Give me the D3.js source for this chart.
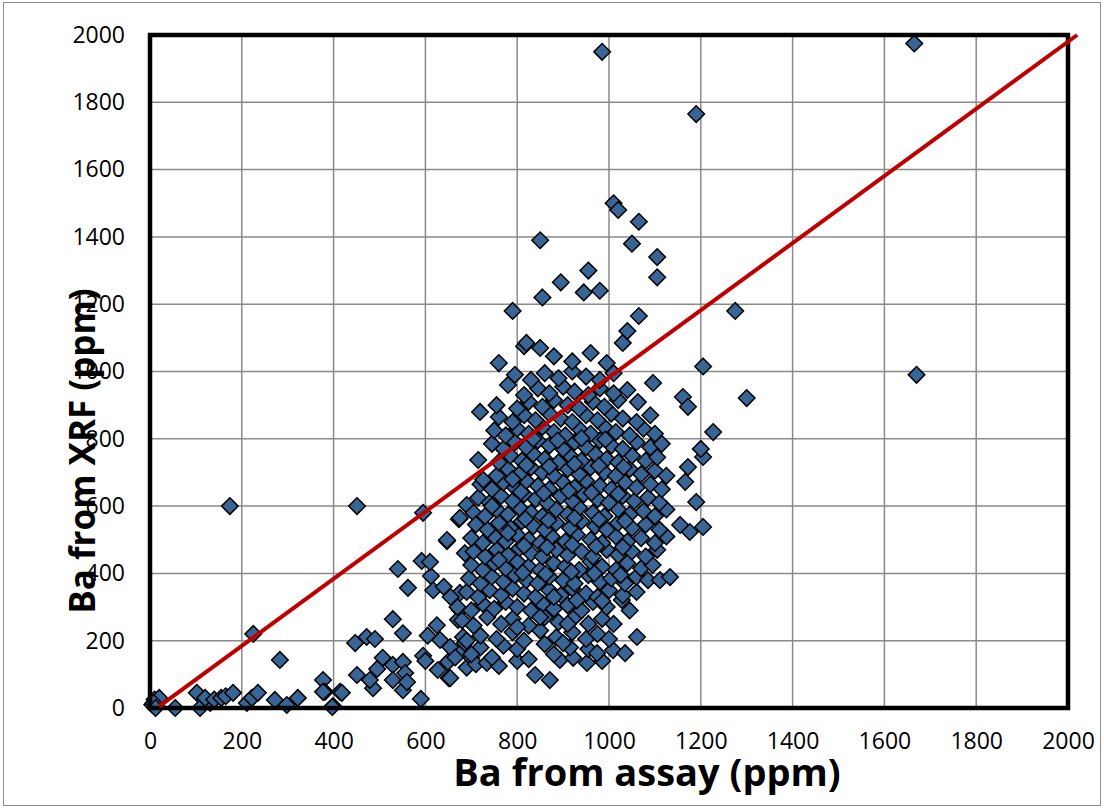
<!DOCTYPE html>
<html>
<head>
<meta charset="utf-8">
<script src="https://cdn.jsdelivr.net/npm/d3@7"></script>
<style>
  body { margin: 0; background: #fff; }
  svg text { font-family: "Open Sans", "Liberation Sans", sans-serif; fill: #000; }
</style>
</head>
<body>
<div id="chart"></div>
<script>
// Ba from assay (x) vs Ba from XRF (y), ppm
const nearOrigin = [
  [5, 10], [10, 25], [15, 5], [20, 30], [8, 15], [12, 0], [55, 0], [102, 45], [109, 0], [131, 15],
  [120, 30], [140, 25], [155, 30], [165, 35], [181, 45], [211, 15], [222, 30], [235, 45], [272, 24],
  [298, 9], [322, 30], [377, 83], [381, 48], [377, 48], [399, 6], [397, 3], [414, 48], [418, 45],
  [283, 143], [225, 220], [174, 600]
];

const lowerLeft = [
  [451, 600], [595, 580], [540, 413], [562, 357], [592, 437], [612, 392], [617, 350], [647, 496],
  [673, 561], [686, 460], [529, 264], [551, 222], [447, 193], [472, 211], [490, 205], [451, 98],
  [486, 59], [479, 83], [507, 149], [495, 116], [529, 128], [551, 137], [529, 83], [556, 104],
  [551, 53], [560, 77], [590, 27], [595, 155], [625, 246], [632, 202], [649, 137], [651, 89],
  [627, 113], [675, 342], [675, 291], [682, 211], [679, 172], [654, 181], [671, 262], [686, 193],
  [610, 434], [640, 360], [655, 330], [605, 215], [600, 140], [665, 150], [690, 120], [700, 150],
  [710, 130], [720, 180], [675, 565], [690, 603], [654, 89], [734, 134], [647, 499], [705, 580]
];

const cluster = [
  [760, 125], [800, 140], [839, 98], [871, 83], [893, 143], [922, 149], [952, 134], [985, 140],
  [700, 160], [745, 150], [770, 185], [800, 175], [825, 145], [860, 190], [880, 160], [915, 180], [955, 175], [974, 163], [1009, 172], [1035, 163],
  [690, 200], [720, 215], [755, 205], [790, 225], [815, 200], [850, 230], [885, 210], [900, 193], [920, 225], [950, 205], [975, 220], [1000, 205], [1061, 211],
  [680, 260], [705, 245], [735, 270], [765, 250], [790, 265], [825, 245], [860, 270], [890, 255], [925, 270], [955, 250], [985, 265], [1010, 250],
  [670, 300], [700, 290], [725, 310], [750, 295], [775, 315], [800, 300], [830, 290], [855, 310], [880, 295], [910, 305], [940, 290], [965, 315], [995, 300], [1028, 321], [1045, 290],
  [690, 345], [715, 330], [740, 350], [765, 335], [790, 355], [815, 340], [840, 330], [870, 350], [895, 335], [920, 355], [950, 340], [975, 330], [1000, 350], [1030, 335], [1060, 345],
  [695, 385], [720, 370], [745, 390], [770, 375], [795, 395], [820, 380], [845, 370], [870, 390], [900, 380], [925, 370], [955, 395], [980, 375], [1005, 385], [1035, 370], [1060, 390], [1085, 380], [1111, 380], [1133, 389],
  [700, 425], [725, 410], [750, 430], [775, 415], [800, 435], [825, 420], [850, 410], [880, 430], [905, 420], [935, 410], [960, 435], [985, 420], [1015, 410], [1040, 430], [1070, 415], [1095, 425],
  [705, 465], [730, 450], [755, 470], [780, 455], [805, 475], [830, 460], [855, 450], [885, 470], [910, 455], [940, 465], [965, 450], [995, 470], [1020, 455], [1050, 465], [1080, 450], [1105, 470],
  [700, 505], [725, 490], [750, 510], [775, 495], [800, 515], [825, 500], [850, 490], [875, 510], [905, 495], [930, 515], [960, 500], [985, 490], [1015, 510], [1040, 495], [1070, 505], [1100, 490], [1125, 510], [1176, 523], [1205, 538],
  [710, 545], [735, 530], [760, 550], [785, 535], [810, 555], [835, 540], [860, 530], [885, 550], [915, 535], [940, 555], [970, 540], [995, 530], [1020, 550], [1050, 535], [1080, 545], [1110, 530], [1155, 544],
  [730, 570], [755, 590], [780, 575], [805, 595], [830, 580], [855, 570], [885, 590], [910, 575], [935, 595], [965, 580], [990, 570], [1020, 590], [1045, 575], [1075, 585], [1100, 570], [1125, 590], [1190, 612],
  [715, 625], [740, 610], [765, 630], [790, 615], [815, 635], [840, 620], [865, 610], [895, 630], [920, 615], [945, 635], [975, 620], [1000, 610], [1030, 630], [1055, 615], [1085, 625], [1110, 610],
  [720, 665], [745, 650], [770, 670], [795, 655], [820, 675], [845, 660], [870, 650], [900, 670], [925, 655], [950, 675], [980, 660], [1005, 650], [1035, 670], [1060, 655], [1090, 665], [1115, 650], [1166, 672],
  [726, 678], [755, 690], [780, 710], [805, 695], [830, 715], [855, 700], [880, 690], [910, 710], [935, 695], [960, 715], [990, 700], [1015, 690], [1045, 710], [1070, 695], [1100, 705], [1125, 690], [1172, 716],
  [715, 737], [760, 730], [785, 750], [810, 735], [835, 755], [860, 740], [890, 730], [915, 750], [940, 735], [970, 755], [995, 740], [1020, 730], [1050, 750], [1080, 735], [1105, 745], [1205, 746],
  [745, 785], [770, 770], [795, 790], [820, 775], [845, 795], [870, 780], [900, 770], [925, 790], [950, 775], [980, 795], [1005, 780], [1030, 770], [1060, 790], [1090, 775], [1115, 785], [1200, 770],
  [750, 825], [775, 810], [800, 830], [825, 815], [855, 835], [880, 820], [905, 810], [935, 830], [960, 815], [990, 835], [1015, 820], [1045, 810], [1075, 830], [1100, 815], [1227, 820],
  [760, 865], [790, 850], [815, 870], [840, 855], [870, 875], [895, 860], [920, 850], [950, 870], [975, 855], [1005, 875], [1030, 860], [1060, 850], [1090, 870],
  [719, 880], [755, 900], [800, 890], [825, 910], [855, 895], [880, 915], [910, 900], [935, 890], [965, 910], [990, 895], [1020, 915], [1063, 909], [1161, 924], [1172, 895],
  [780, 960], [815, 930], [845, 950], [870, 935], [900, 955], [925, 940], [955, 930], [980, 950], [1010, 935], [1040, 945], [1096, 966],
  [795, 990], [830, 975], [860, 995], [890, 980], [920, 1000], [950, 985], [980, 975], [1010, 995], [1205, 1015],
  [760, 1025], [815, 1075], [820, 1085], [850, 1070], [880, 1045], [920, 1030], [960, 1055], [995, 1025], [1030, 1085], [1040, 1120]
];

// the core of the cloud is solid in the picture
const clusterCore = [
  [812, 402], [862, 398], [918, 405], [968, 400], [1025, 395],
  [815, 482], [865, 478], [920, 485], [972, 480], [1030, 478],
  [818, 562], [868, 558], [925, 565], [978, 560], [1035, 556],
  [808, 642], [858, 638], [912, 645], [962, 640], [1020, 636],
  [820, 722], [870, 718], [925, 725], [978, 720], [1032, 716],
  [835, 800], [888, 795], [940, 802], [992, 798],
  [780, 520], [760, 440], [745, 600], [790, 680], [880, 330], [930, 320], [985, 318],
  [850, 270], [910, 250], [800, 240]
];

const highOutliers = [
  [1665, 1975], [985, 1950], [1190, 1765], [1010, 1500], [1020, 1480], [1065, 1445], [1050, 1380],
  [1105, 1340], [1105, 1280], [850, 1390], [955, 1300], [895, 1265], [980, 1240], [945, 1235],
  [855, 1220], [790, 1180], [1065, 1165], [1275, 1180], [1670, 990], [1300, 921]
];

const samples = nearOrigin.concat(lowerLeft, cluster, clusterCore, highOutliers);

// 1:1 reference line
const oneToOne = [[20, 5], [2020, 2000]];

const tickValues = d3.range(0, 2001, 200);
const xTitle = "Ba from assay (ppm)";
const yTitle = "Ba from XRF (ppm)";

const width = 1104, height = 809;
const svg = d3.select("#chart").append("svg")
    .attr("width", width)
    .attr("height", height);

// outer chart frame
svg.append("rect")
    .attr("x", 3.5).attr("y", 2.5)
    .attr("width", 1097).attr("height", 803)
    .attr("fill", "none")
    .attr("stroke", "#8c8c8c")
    .attr("stroke-width", 1);

const x = d3.scaleLinear().domain([0, 2000]).range([150, 1068]);
const y = d3.scaleLinear().domain([0, 2000]).range([708, 35]);

// gridlines
const grid = svg.append("g").attr("stroke", "#8a8a8a").attr("stroke-width", 1.5);
grid.selectAll("line.v")
    .data(tickValues.slice(1, -1))
    .enter().append("line")
    .attr("x1", d => x(d)).attr("x2", d => x(d))
    .attr("y1", y(0)).attr("y2", y(2000));
grid.selectAll("line.h")
    .data(tickValues.slice(1, -1))
    .enter().append("line")
    .attr("x1", x(0)).attr("x2", x(2000))
    .attr("y1", d => y(d)).attr("y2", d => y(d));

// axes (labels only)
const xAxis = svg.append("g")
    .attr("transform", `translate(0,${y(0)})`)
    .call(d3.axisBottom(x).tickValues(tickValues).tickSize(0).tickPadding(25).tickFormat(d3.format("d")));
const yAxis = svg.append("g")
    .attr("transform", `translate(${x(0)},0)`)
    .call(d3.axisLeft(y).tickValues(tickValues).tickSize(0).tickPadding(25).tickFormat(d3.format("d")));
[xAxis, yAxis].forEach(a => {
    a.select(".domain").remove();
    a.selectAll("text").style("font-size", "23px").style("font-family", null);
});

// points
const diamond = d3.symbol().type(d3.symbolDiamond2).size(175);
svg.append("g")
    .selectAll("path")
    .data(samples)
    .enter().append("path")
    .attr("d", diamond)
    .attr("transform", d => `translate(${x(d[0])},${y(d[1])})`)
    .attr("fill", "#386595")
    .attr("stroke", "#000")
    .attr("stroke-width", 1.5);

// plot frame
svg.append("rect")
    .attr("x", x(0)).attr("y", y(2000))
    .attr("width", x(2000) - x(0)).attr("height", y(0) - y(2000))
    .attr("fill", "none")
    .attr("stroke", "#000")
    .attr("stroke-width", 4.5);

// 1:1 line
svg.append("path")
    .datum(oneToOne)
    .attr("d", d3.line().x(d => x(d[0])).y(d => y(d[1])))
    .attr("stroke", "#c00000")
    .attr("stroke-width", 4)
    .attr("fill", "none");

// axis titles
svg.append("text")
    .attr("x", 647).attr("y", 786)
    .attr("text-anchor", "middle")
    .style("font-size", "38px").style("font-weight", "bold")
    .text(xTitle);
svg.append("text")
    .attr("transform", "translate(95,451) rotate(-90)")
    .attr("text-anchor", "middle")
    .style("font-size", "35px").style("font-weight", "bold")
    .text(yTitle);
</script>
</body>
</html>
